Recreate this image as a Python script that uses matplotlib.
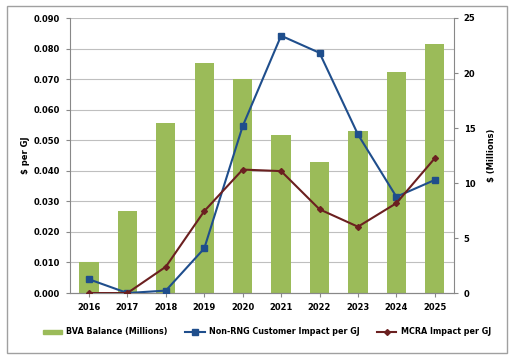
import matplotlib.pyplot as plt
from matplotlib.patches import Rectangle
from matplotlib.lines import Line2D
import numpy as np

years = ['2016', '2017', '2018', '2019', '2020', '2021', '2022', '2023', '2024', '2025']
bva_balance = [2.8, 7.5, 15.5, 20.9, 19.45, 14.4, 11.9, 14.7, 20.1, 22.6]
non_rng = [0.0045, 0.0, 0.0008, 0.0146, 0.0546, 0.0842, 0.0786, 0.0519, 0.0315, 0.0370]
mcra = [0.0, 0.0, 0.0086, 0.0268, 0.0404, 0.0399, 0.0274, 0.0217, 0.0294, 0.0441]

bar_color = '#9BBB59'
blue = '#1F4E8C'
red = '#6B2020'

plt.rcParams['font.family'] = 'DejaVu Sans'
plt.rcParams['font.size'] = 6
plt.rcParams['font.weight'] = 'bold'

fig = plt.figure(figsize=(5.13, 3.6), dpi=100)
ax = fig.add_axes([0.136, 0.186, 0.749, 0.764])
ax2 = ax.twinx()

x = np.arange(len(years))

# bars on secondary axis, lines on primary
ax2.bar(x, bva_balance, width=0.5, color=bar_color, zorder=1)
ax2.set_ylim(0, 25)
ax2.set_yticks(range(0, 26, 5))
ax2.set_ylabel('$ (Millions)', fontsize=6, fontweight='bold', labelpad=8)

ax.set_zorder(ax2.get_zorder() + 1)
ax.patch.set_visible(False)
ax.plot(x, non_rng, color=blue, lw=1.5, marker='s', ms=4.5, zorder=3)
ax.plot(x, mcra, color=red, lw=1.5, marker='D', ms=3, zorder=4)
ax.set_ylim(0, 0.09)
ax.set_yticks(np.arange(0, 0.0901, 0.01))
ax.set_yticklabels(['%.3f' % v for v in np.arange(0, 0.0901, 0.01)])
ax.set_ylabel('$ per GJ', fontsize=6, fontweight='bold', labelpad=3)
ax.set_xlim(-0.5, len(years) - 0.5)
ax.set_xticks(x)
ax.set_xticklabels(years)

# grid drawn under bars
ax2.set_axisbelow(True)
for v in np.arange(0.01, 0.0901, 0.01):
    ax2.axhline(v / 0.09 * 25, color='#BFBFBF', lw=0.8, zorder=0)

for a in (ax, ax2):
    a.spines['top'].set_visible(False)
    a.spines['left'].set_color('#888888')
    a.spines['right'].set_color('#888888')
    a.spines['bottom'].set_color('#888888')
    a.tick_params(length=3, color='#888888', pad=4)
ax2.spines['left'].set_visible(False)
ax.spines['right'].set_visible(False)

handles = [Rectangle((0, 0), 1, 1, color=bar_color),
           Line2D([], [], color=blue, lw=1.5, marker='s', ms=4.5),
           Line2D([], [], color=red, lw=1.5, marker='D', ms=3)]
labels = ['BVA Balance (Millions)', 'Non-RNG Customer Impact per GJ', 'MCRA Impact per GJ']
fig.legend(handles, labels, loc='center', bbox_to_anchor=(0.52, 0.078), ncol=3,
           frameon=False, fontsize=5.8, handlelength=2.4, handleheight=0.4,
           handletextpad=0.5, columnspacing=2.2)

fig.patches.append(Rectangle((7 / 513, 7 / 360), 500 / 513, 347 / 360, fill=False,
                             edgecolor='#A0A0A0', lw=1, transform=fig.transFigure))

fig.savefig('out.png', dpi=100)
